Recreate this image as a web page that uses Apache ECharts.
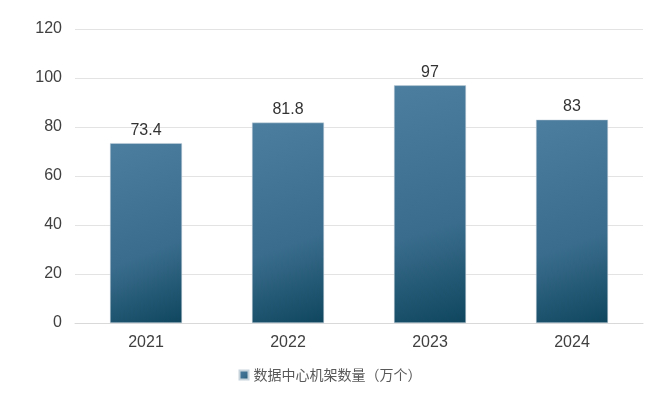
<!DOCTYPE html>
<html><head><meta charset="utf-8">
<script src="https://cdn.jsdelivr.net/npm/echarts@6/dist/echarts.min.js"></script>
<style>html,body{margin:0;padding:0;background:#fff}#c{width:660px;height:396px}</style>
</head><body><div id="c"></div>
<script>
var categories = ['2021', '2022', '2023', '2024'];
var values = [73.4, 81.8, 97, 83];
var seriesName = '数据中心机架数量（万个）';
var chart = echarts.init(document.getElementById('c'));
chart.setOption({
  animation: false,
  textStyle: {fontFamily: 'Liberation Sans, Arial, sans-serif'},
  grid: {left: 75, right: 17, top: 29, bottom: 73},
  legend: {
    bottom: 9, left: 'center', itemWidth: 9, itemHeight: 9, icon: 'rect', itemGap: 4,
    textStyle: {color: '#595959', fontSize: 14, fontFamily: 'Noto Sans CJK SC'},
    data: [seriesName]
  },
  xAxis: {
    type: 'category', data: categories,
    axisLine: {lineStyle: {color: '#d9d9d9'}},
    axisTick: {show: false},
    axisLabel: {color: '#404040', fontSize: 16, margin: 12}
  },
  yAxis: {
    type: 'value', min: 0, max: 120, interval: 20,
    axisLine: {show: false}, axisTick: {show: false},
    splitLine: {lineStyle: {color: '#e3e3e3'}},
    axisLabel: {color: '#404040', fontSize: 16, margin: 13}
  },
  series: [{
    name: seriesName, type: 'bar', data: values, barWidth: 72,
    itemStyle: {
      color: new echarts.graphic.LinearGradient(0, 0, 1, 1, [
        {offset: 0, color: '#4c7e9f'},
        {offset: 0.6, color: '#3a6d8d'},
        {offset: 1, color: '#0f465e'}
      ]),
      borderColor: '#c8d4dc', borderWidth: 0.5
    },
    label: {show: true, position: 'top', color: '#333', fontSize: 16, distance: 5}
  }]
});
</script></body></html>
